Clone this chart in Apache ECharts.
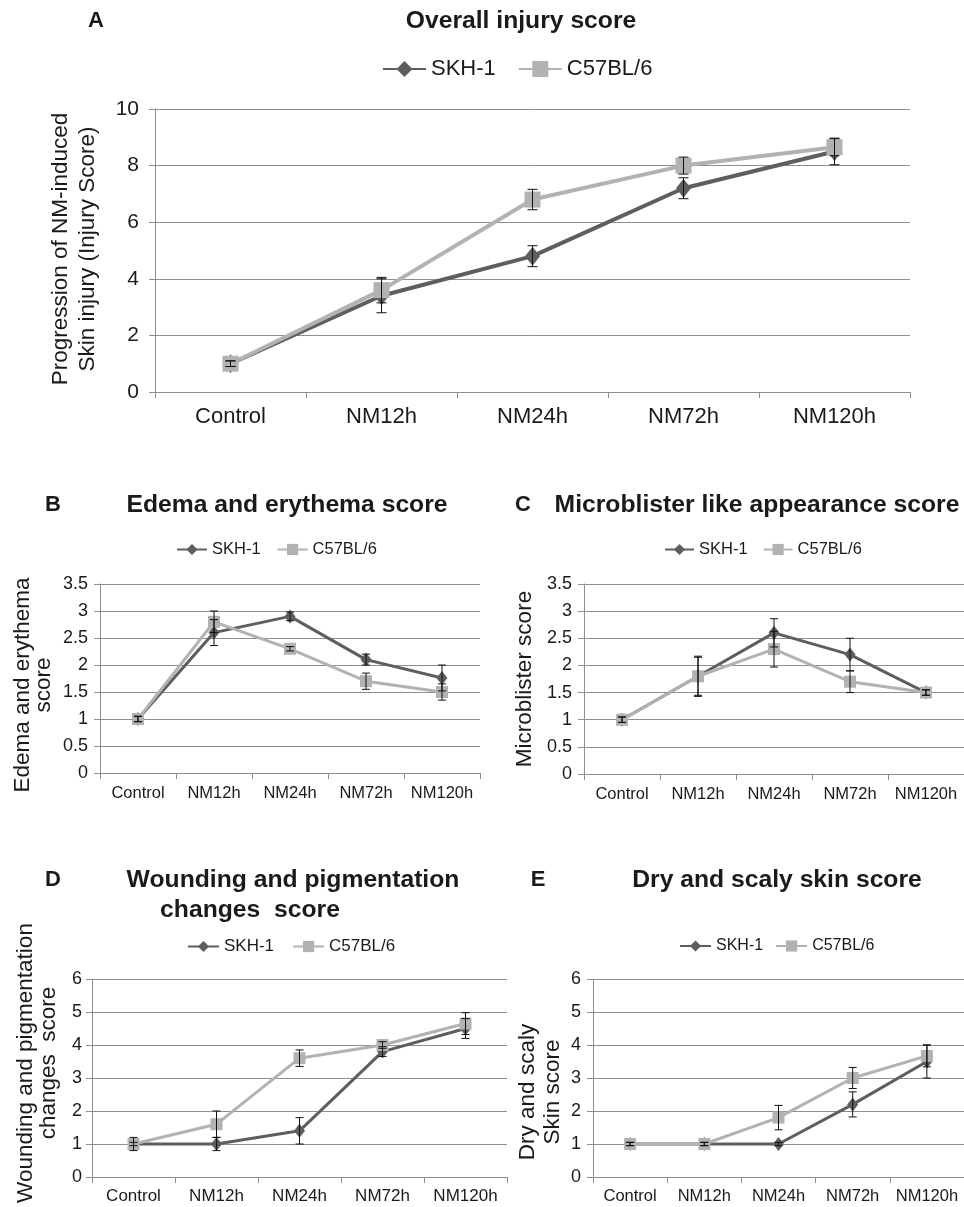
<!DOCTYPE html>
<html>
<head>
<meta charset="utf-8">
<script src="https://cdn.jsdelivr.net/npm/echarts@6/dist/echarts.min.js"></script>
<style>
html,body{margin:0;padding:0;background:#fff;}
#chart{width:964px;height:1207px;}
</style>
</head>
<body>
<div id="chart"></div>
<script>
const categories = ['Control', 'NM12h', 'NM24h', 'NM72h', 'NM120h'];
const seriesNames = ['SKH-1', 'C57BL/6'];

// Panel A: Overall injury score
const skhA = [1.0, 3.4, 4.8, 7.2, 8.5];
const skhAErr = [0.1, 0.6, 0.37, 0.37, 0.47];
const c57A = [1.0, 3.6, 6.8, 8.0, 8.65];
const c57AErr = [0.1, 0.45, 0.36, 0.3, 0.3];

// Panel B: Edema and erythema score
const skhB = [1.0, 2.6, 2.9, 2.1, 1.76];
const skhBErr = [0.05, 0.24, 0.08, 0.1, 0.24];
const c57B = [1.0, 2.8, 2.3, 1.7, 1.5];
const c57BErr = [0.05, 0.2, 0.04, 0.15, 0.15];

// Panel C: Microblister like appearance score
const skhC = [1.0, 1.8, 2.6, 2.2, 1.5];
const skhCErr = [0.05, 0.37, 0.26, 0.3, 0.05];
const c57C = [1.0, 1.8, 2.3, 1.7, 1.5];
const c57CErr = [0.05, 0.35, 0.33, 0.2, 0.05];

// Panel D: Wounding and pigmentation changes score
const skhD = [1.0, 1.0, 1.4, 3.8, 4.5];
const skhDErr = [0.05, 0.2, 0.4, 0.15, 0.3];
const c57D = [1.0, 1.6, 3.6, 4.0, 4.65];
const c57DErr = [0.2, 0.4, 0.25, 0.1, 0.33];

// Panel E: Dry and scaly skin score
const skhE = [1.0, 1.0, 1.0, 2.2, 3.5];
const skhEErr = [0.05, 0.05, 0.05, 0.38, 0.5];
const c57E = [1.0, 1.0, 1.8, 3.0, 3.67];
const c57EErr = [0.05, 0.05, 0.37, 0.32, 0.33];

const FONT = 'Liberation Sans, Arial, sans-serif';
const DARK = '#5e5e5e';
const LIGHT = '#b2b2b2';
const GRID = '#8e8e8e';
const TXT = '#1a1a1a';

const panels = [
  {skh: skhA, skhErr: skhAErr, c57: c57A, c57Err: c57AErr, max: 10, interval: 2,
   grid: {left: 155, top: 109, width: 755, height: 283}, tickFs: 21, catFs: 22, yMargin: 16, xMargin: 14,
   lw: 4, sq: 16, dia: [15, 19], cap: 5,
   legend: {left: 382, top: 58, itemWidth: 43, itemHeight: 20, fs: 22, gap: 22}},
  {skh: skhB, skhErr: skhBErr, c57: c57B, c57Err: c57BErr, max: 3.5, interval: 0.5,
   grid: {left: 100, top: 584, width: 380, height: 189}, tickFs: 18, catFs: 16.5, yMargin: 12, xMargin: 12,
   lw: 3, sq: 12, dia: [11, 14], cap: 4,
   legend: {left: 176, top: 541, itemWidth: 30, itemHeight: 14, fs: 16.5, gap: 16}},
  {skh: skhC, skhErr: skhCErr, c57: c57C, c57Err: c57CErr, max: 3.5, interval: 0.5,
   grid: {left: 584, top: 584, width: 380, height: 190}, tickFs: 18, catFs: 16.5, yMargin: 12, xMargin: 12,
   lw: 3, sq: 12, dia: [11, 14], cap: 4,
   legend: {left: 664, top: 541, itemWidth: 29, itemHeight: 14, fs: 16.5, gap: 15}},
  {skh: skhD, skhErr: skhDErr, c57: c57D, c57Err: c57DErr, max: 6, interval: 1,
   grid: {left: 92, top: 979, width: 415, height: 198}, tickFs: 18, catFs: 17, yMargin: 10, xMargin: 11,
   lw: 3, sq: 12, dia: [11, 14], cap: 4,
   legend: {left: 187, top: 938, itemWidth: 31, itemHeight: 14, fs: 17, gap: 18}},
  {skh: skhE, skhErr: skhEErr, c57: c57E, c57Err: c57EErr, max: 6, interval: 1,
   grid: {left: 593, top: 979, width: 375, height: 198}, tickFs: 18, catFs: 16.5, yMargin: 12, xMargin: 11,
   lw: 3, sq: 12, dia: [11, 14], cap: 4,
   legend: {left: 679, top: 938, itemWidth: 31, itemHeight: 14, fs: 16, gap: 12}}
];

function errData(vals, errs) {
  return vals.map((v, i) => [i, v - errs[i], v + errs[i]]);
}

function errRender(cap) {
  return function (params, api) {
    const x = api.value(0);
    const lo = api.coord([x, api.value(1)]);
    const hi = api.coord([x, api.value(2)]);
    const st = {stroke: '#111', lineWidth: 1};
    return {
      type: 'group',
      children: [
        {type: 'line', shape: {x1: lo[0], y1: lo[1], x2: hi[0], y2: hi[1]}, style: st},
        {type: 'line', shape: {x1: lo[0] - cap, y1: lo[1], x2: lo[0] + cap, y2: lo[1]}, style: st},
        {type: 'line', shape: {x1: hi[0] - cap, y1: hi[1], x2: hi[0] + cap, y2: hi[1]}, style: st}
      ]
    };
  };
}

const grids = [], xAxes = [], yAxes = [], series = [], legends = [];
panels.forEach((p, k) => {
  grids.push(Object.assign({containLabel: false}, p.grid));
  xAxes.push({
    type: 'category', gridIndex: k, data: categories, boundaryGap: true,
    axisLine: {lineStyle: {color: GRID, width: 1}},
    axisTick: {show: true, length: 6, lineStyle: {color: GRID}},
    axisLabel: {color: TXT, fontSize: p.catFs, fontFamily: FONT, margin: p.xMargin, interval: 0},
    splitLine: {show: false}
  });
  yAxes.push({
    type: 'value', gridIndex: k, min: 0, max: p.max, interval: p.interval,
    axisLine: {show: true, lineStyle: {color: GRID, width: 1}},
    axisTick: {show: true, length: 6, lineStyle: {color: GRID}},
    axisLabel: {color: TXT, fontSize: p.tickFs, fontFamily: FONT, margin: p.yMargin},
    splitLine: {show: true, lineStyle: {color: GRID, width: 1}}
  });
  series.push({
    name: 'SKH-1', type: 'line', xAxisIndex: k, yAxisIndex: k, data: p.skh,
    symbol: 'diamond', symbolSize: p.dia, z: 2,
    lineStyle: {color: DARK, width: p.lw}, itemStyle: {color: DARK}
  });
  series.push({
    name: 'C57BL/6', type: 'line', xAxisIndex: k, yAxisIndex: k, data: p.c57,
    symbol: 'rect', symbolSize: p.sq, z: 3,
    lineStyle: {color: LIGHT, width: p.lw}, itemStyle: {color: LIGHT}
  });
  series.push({
    name: 'SKH-1 error', type: 'custom', xAxisIndex: k, yAxisIndex: k, z: 4,
    data: errData(p.skh, p.skhErr), renderItem: errRender(p.cap), silent: true
  });
  series.push({
    name: 'C57BL/6 error', type: 'custom', xAxisIndex: k, yAxisIndex: k, z: 4,
    data: errData(p.c57, p.c57Err), renderItem: errRender(p.cap), silent: true
  });
  legends.push({
    data: seriesNames, left: p.legend.left, top: p.legend.top,
    itemWidth: p.legend.itemWidth, itemHeight: p.legend.itemHeight, itemGap: p.legend.gap,
    padding: 0,
    textStyle: {color: TXT, fontSize: p.legend.fs, fontFamily: FONT}
  });
});

function txt(x, y, s, fs, bold, rot, lh) {
  return {
    type: 'text', x: x, y: y, rotation: rot ? Math.PI / 2 : 0,
    style: {text: s, fill: TXT, font: (bold ? 'bold ' : '') + fs + 'px ' + FONT,
            textAlign: 'center', textVerticalAlign: 'middle', lineHeight: lh || fs * 1.2}
  };
}

const TF = 24.7;
const NF = 22.5;
const graphics = [
  txt(96, 21, 'A', 22, true), txt(521, 21, 'Overall injury score', TF, true),
  txt(74, 249, 'Progression of NM-induced\nSkin injury (Injury Score)', NF, false, true, 27),
  txt(53, 505, 'B', 22, true), txt(287, 505, 'Edema and erythema score', TF, true),
  txt(33, 685, 'Edema and erythema\nscore', NF, false, true, 21),
  txt(523, 505, 'C', 22, true), txt(757, 505, 'Microblister like appearance score', TF, true),
  txt(525, 679, 'Microblister score', NF, false, true),
  txt(53, 880, 'D', 22, true), txt(293, 880, 'Wounding and pigmentation', TF, true),
  txt(250, 910, 'changes  score', TF, true),
  txt(37, 1063, 'Wounding and pigmentation\nchanges  score', NF, false, true, 23),
  txt(538, 880, 'E', 22, true), txt(777, 880, 'Dry and scaly skin score', TF, true),
  txt(540, 1092, 'Dry and scaly\nSkin score', NF, false, true, 25)
];

const chart = echarts.init(document.getElementById('chart'), null, {renderer: 'canvas'});
chart.setOption({
  backgroundColor: '#ffffff',
  animation: false,
  textStyle: {fontFamily: FONT},
  grid: grids, xAxis: xAxes, yAxis: yAxes, series: series, legend: legends,
  graphic: graphics
});
</script>
</body>
</html>
